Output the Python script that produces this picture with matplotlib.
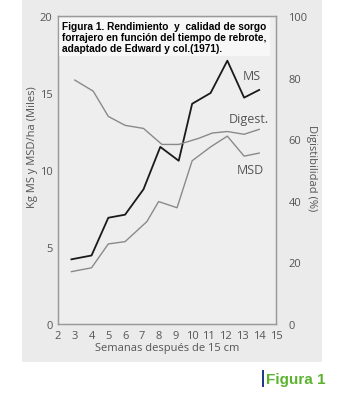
import matplotlib.pyplot as plt
from matplotlib.patches import Rectangle

# data
ms_weeks = [2.8, 4.0, 5.0, 6.0, 7.1, 8.1, 9.2, 10.0, 11.1, 12.1, 13.1, 14.0]
ms = [4.2, 4.45, 6.9, 7.1, 8.75, 11.5, 10.6, 14.3, 15.0, 17.1, 14.7, 15.2]

msd_weeks = [2.8, 4.0, 5.0, 6.0, 7.3, 8.0, 9.1, 10.0, 11.1, 12.1, 13.1, 14.0]
msd = [3.4, 3.65, 5.2, 5.35, 6.65, 7.95, 7.55, 10.6, 11.5, 12.2, 10.9, 11.1]

dig_weeks = [3.0, 4.1, 5.0, 6.0, 7.1, 8.2, 9.2, 10.4, 11.2, 12.1, 13.1, 14.0]
digest = [79.2, 75.6, 67.4, 64.5, 63.5, 58.3, 58.3, 60.3, 62.0, 62.5, 61.6, 63.2]

x_ticks = list(range(2, 16))
left_ticks = [0, 5, 10, 15, 20]
right_ticks = [0, 20, 40, 60, 80, 100]

title = ("Figura 1. Rendimiento  y  calidad de sorgo\n"
         "forrajero en función del tiempo de rebrote,\n"
         "adaptado de Edward y col.(1971).")

bg = "#ebebeb"
tick_col = "#555555"
line_grey = "#8a8a8a"

fig = plt.figure(figsize=(3.57, 4.10), dpi=100)
fig.patch.set_facecolor("white")

# grey scanned panel, drawn behind the axes
fig.patches.append(Rectangle((0.062, 0.115), 0.84, 0.885, transform=fig.transFigure,
                             facecolor=bg, edgecolor="none", zorder=-10))

ax = fig.add_axes([0.1625, 0.2073, 0.6105, 0.7512])
ax.set_facecolor("#eeeeee")
ax2 = ax.twinx()

ax.plot(ms_weeks, ms, color="#1a1a1a", lw=1.3)
ax.plot(msd_weeks, msd, color=line_grey, lw=1.0)
ax2.plot(dig_weeks, digest, color=line_grey, lw=1.0)

ax.set_xlim(2, 15)
ax.set_ylim(0, 20)
ax2.set_ylim(0, 100)
ax.set_xticks(x_ticks)
ax.set_yticks(left_ticks)
ax2.set_yticks(right_ticks)

font = "Open Sans"
for a in (ax, ax2):
    for s in a.spines.values():
        s.set_color("#9a9a9a")
        s.set_linewidth(0.9)
    a.tick_params(length=0, labelsize=8, labelcolor=tick_col)
    for lab in a.get_xticklabels() + a.get_yticklabels():
        lab.set_fontfamily(font)
ax.tick_params(axis="y", pad=4)
ax.tick_params(axis="x", pad=4)
ax2.tick_params(axis="y", pad=9)

ax.set_xlabel("Semanas después de 15 cm", fontsize=8, color=tick_col,
              family=font, labelpad=1)

fig.text(0.09, 0.64, "Kg MS y MSD/ha (Miles)", rotation=90, fontsize=8,
         color=tick_col, family=font, ha="center", va="center")
fig.text(0.872, 0.59, "Digistibilidad (%)", rotation=270, fontsize=8,
         color=tick_col, family=font, ha="center", va="center")

# line labels
ax.text(13.55, 15.9, "MS", fontsize=9, color=tick_col, family=font, ha="center")
ax.text(13.4, 13.1, "Digest.", fontsize=9, color=tick_col, family=font, ha="center")
ax.text(13.45, 9.8, "MSD", fontsize=9, color=tick_col, family=font, ha="center")

ax.text(0.02, 0.985, title, transform=ax.transAxes, fontsize=7.3,
        fontweight="bold", family="Liberation Sans", va="top", ha="left",
        linespacing=1.15, zorder=5,
        bbox=dict(boxstyle="square,pad=0.3", facecolor="#f7f7f7", edgecolor="none"))

# "Figura 1" caption with blue bar
fig.patches.append(Rectangle((0.733, 0.054), 0.006, 0.04, transform=fig.transFigure,
                             facecolor="#1f3c88", edgecolor="none"))
fig.text(0.745, 0.073, "Figura 1", fontsize=11, fontweight="bold",
         color="#5bb32f", family="Liberation Sans", va="center", ha="left")

fig.savefig("out.png", dpi=100, facecolor=fig.get_facecolor())
